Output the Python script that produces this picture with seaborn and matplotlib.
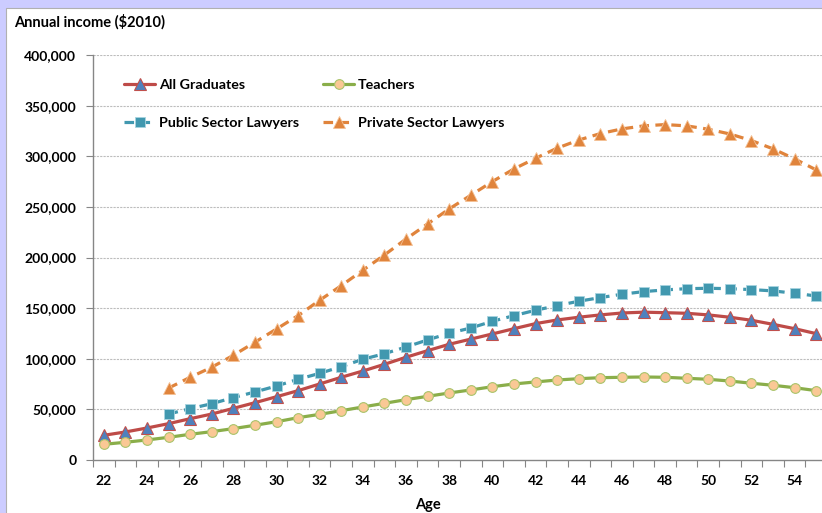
import matplotlib
matplotlib.use("Agg")
import matplotlib.pyplot as plt
from matplotlib.patches import Rectangle
from matplotlib.ticker import FuncFormatter, MultipleLocator
import seaborn as sns
import pandas as pd

# ---- data ----
ages_all = list(range(22, 56))
ages_law = list(range(25, 56))

all_graduates = [24400, 27700, 31600, 35900, 40800, 45400, 51000, 56600, 62500,
                 68500, 75100, 81700, 87900, 94500, 101500, 108000, 114300, 119400,
                 124500, 129700, 134700, 138300, 141000, 143300, 145200, 146000,
                 145500, 144900, 143300, 141000, 138000, 134000, 129700, 124800]
teachers = [15500, 17500, 19800, 22400, 25400, 28000, 31000, 34300, 37800,
            41800, 45100, 48700, 52400, 56000, 59600, 62900, 66200, 69200,
            72400, 75100, 77100, 79000, 80300, 81300, 81700, 82000,
            81700, 80700, 79700, 78000, 75800, 73800, 71400, 68500]
public_lawyers = [45400, 50700, 55600, 61600, 67200, 73100,
                  79700, 85600, 92200, 99500, 105000, 111600, 118600, 125200, 130400,
                  137000, 142600, 147900, 152500, 156800, 160400, 163700, 166300,
                  168000, 169200, 169600, 169200, 168300, 167000, 164700, 162000]
private_lawyers = [71000, 81700, 91600, 103400, 116300, 129400,
                   142600, 157800, 172200, 187400, 202500, 218300, 233200, 248000, 261500,
                   275000, 287500, 298000, 308000, 316000, 322400, 327000, 330000,
                   331300, 330000, 326700, 322000, 315500, 307300, 297400, 286500]

series_names = ["All Graduates", "Teachers", "Public Sector Lawyers", "Private Sector Lawyers"]
x_tick_labels = [str(a) for a in range(22, 55, 2)]
y_ticks = list(range(0, 400001, 50000))

frames = [
    pd.DataFrame({"Age": ages_all, "Income": all_graduates, "Series": series_names[0]}),
    pd.DataFrame({"Age": ages_all, "Income": teachers, "Series": series_names[1]}),
    pd.DataFrame({"Age": ages_law, "Income": public_lawyers, "Series": series_names[2]}),
    pd.DataFrame({"Age": ages_law, "Income": private_lawyers, "Series": series_names[3]}),
]
df = pd.concat(frames, ignore_index=True)

sns.set_theme(style="white")
plt.rcParams["font.family"] = ["Lato", "DejaVu Sans"]
plt.rcParams["font.weight"] = "bold"

W, H = 822, 513
fig = plt.figure(figsize=(W / 100, H / 100), dpi=100)
fig.patch.set_facecolor("#CCCCFF")
bg = Rectangle((6 / W, -0.05), 1.2, 1 - 8 / H + 0.05, transform=fig.transFigure,
               facecolor="white", edgecolor="#B0B0B0", linewidth=0.8, zorder=-10)
fig.patches.append(bg)

left_px, right_px, top_px, bottom_px = 93, 827, 55, 460
ax = fig.add_axes([left_px / W, 1 - bottom_px / H, (right_px - left_px) / W, (bottom_px - top_px) / H])
ax.set_facecolor("none")
ax.set_zorder(5)

styles = {
    "All Graduates": dict(color="#BE4B48", marker="^", markersize=8.5, markerfacecolor="#4F81BD",
                          markeredgecolor="#C0504D", markeredgewidth=0.8, linestyle="-"),
    "Teachers": dict(color="#8AAE4A", marker="o", markersize=7, markerfacecolor="#FAC895",
                     markeredgecolor="#A9C46A", markeredgewidth=0.8, linestyle="-"),
    "Public Sector Lawyers": dict(color="#4198AF", marker="s", markersize=7, markerfacecolor="#4198AF",
                                  markeredgecolor="#A8D4E0", markeredgewidth=0.6, linestyle=(0, (3, 2))),
    "Private Sector Lawyers": dict(color="#E0843C", marker="^", markersize=8.5, markerfacecolor="#E0843C",
                                   markeredgecolor="#F4C094", markeredgewidth=0.6, linestyle=(0, (3, 2))),
}

for name in series_names:
    sub = df[df["Series"] == name]
    sns.lineplot(data=sub, x="Age", y="Income", ax=ax, label=name, linewidth=2.3, **styles[name])

ax.set_xlim(21.5, 55.5)
ax.set_ylim(0, 400000)
ax.set_yticks(y_ticks)
ax.yaxis.set_major_formatter(FuncFormatter(lambda v, p: f"{int(v):,}"))
ax.set_xticks([int(t) for t in x_tick_labels])
ax.set_xticklabels(x_tick_labels)
ax.xaxis.set_minor_locator(MultipleLocator(1, offset=0.5))

ax.tick_params(axis="x", which="major", length=0, pad=11, labelsize=10, labelcolor="black")
ax.tick_params(axis="x", which="minor", length=5, width=0.8, color="#868686", direction="out", bottom=True)
ax.tick_params(axis="y", which="major", length=5, width=0.8, color="#868686", direction="out",
               left=True, pad=7, labelsize=10, labelcolor="black")
for lab in ax.get_xticklabels() + ax.get_yticklabels():
    lab.set_fontweight("bold")

ax.grid(False)
for v in y_ticks[1:]:
    ax.axhline(v, color="#BDBDBD", linewidth=0.8, linestyle=(0, (2, 1)), zorder=0)

for s in ["top", "right"]:
    ax.spines[s].set_visible(False)
for s in ["left", "bottom"]:
    ax.spines[s].set_color("#868686")
    ax.spines[s].set_linewidth(1.0)

ax.set_xlabel("")
ax.set_ylabel("")

handles, labels = ax.get_legend_handles_labels()
order = [0, 2, 1, 3]
leg = ax.legend([handles[i] for i in order], [labels[i] for i in order], ncol=2, frameon=False,
                loc="upper left", bbox_to_anchor=(124 / W, 1 - 79 / H), bbox_transform=fig.transFigure,
                borderpad=0, borderaxespad=0, handlelength=2.2, handletextpad=0.25,
                columnspacing=1.65, labelspacing=1.85, prop={"weight": "bold", "size": 10.3})
for t in leg.get_texts():
    t.set_color("black")

fig.text(14 / W, 1 - 22 / H, "Annual income ($2010)", ha="left", va="center",
         fontsize=10.5, fontweight="bold", color="black")
fig.text(428 / W, 1 - 505 / H, "Age", ha="center", va="center",
         fontsize=10.5, fontweight="bold", color="black")

fig.savefig("out.png", dpi=100, facecolor=fig.get_facecolor())
